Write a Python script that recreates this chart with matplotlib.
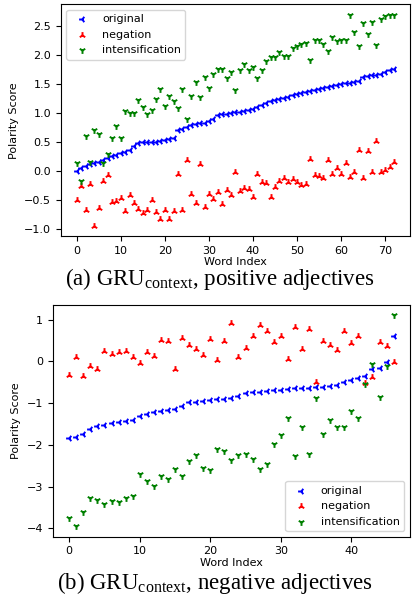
import numpy as np
import matplotlib
matplotlib.use("Agg")
import matplotlib.pyplot as plt

plt.rcParams['font.family'] = ['DejaVu Sans']
plt.rcParams['mathtext.fontset'] = 'custom'
plt.rcParams['mathtext.rm'] = 'Liberation Serif'

# --- (a) positive adjectives ---
pos_original = [0.00, 0.05, 0.09, 0.12, 0.14, 0.16, 0.19, 0.22, 0.25, 0.28,
                0.30, 0.33, 0.36, 0.43, 0.48, 0.49, 0.49, 0.50, 0.50, 0.52,
                0.54, 0.55, 0.57, 0.70, 0.73, 0.75, 0.80, 0.81, 0.82, 0.83,
                0.86, 0.90, 0.97, 0.98, 0.99, 1.00, 1.01, 1.02, 1.03, 1.05,
                1.07, 1.10, 1.14, 1.17, 1.20, 1.22, 1.24, 1.26, 1.28, 1.31,
                1.33, 1.35, 1.37, 1.38, 1.40, 1.42, 1.43, 1.45, 1.46, 1.48,
                1.50, 1.51, 1.52, 1.54, 1.56, 1.62, 1.64, 1.65, 1.66, 1.68,
                1.71, 1.75, 1.76]
pos_negation = [-0.50, -0.27, -0.68, -0.23, -0.95, -0.64, -0.18, -0.08, -0.54, -0.52,
                -0.47, -0.69, -0.42, -0.56, -0.66, -0.73, -0.68, -0.50, -0.72, -0.84,
                -0.68, -0.84, -0.69, -0.06, -0.68, 0.19, -0.40, -0.56, 0.11, -0.63,
                -0.40, -0.48, -0.37, -0.57, -0.34, -0.42, -0.02, -0.35, -0.30, -0.32,
                -0.46, -0.05, -0.20, -0.22, -0.45, -0.28, -0.18, -0.13, -0.19, -0.15,
                -0.20, -0.24, -0.23, 0.20, -0.07, -0.09, -0.12, 0.19, -0.05, 0.05,
                -0.05, 0.13, -0.11, -0.02, 0.36, -0.13, 0.35, -0.02, 0.52, -0.02,
                0.01, 0.06, 0.16]
pos_intens = [0.13, -0.18, 0.61, 0.15, 0.71, 0.63, 0.14, 0.29, 0.57, 0.78,
              0.56, 1.03, 1.00, 1.00, 1.22, 1.11, 0.98, 1.05, 1.25, 1.42,
              1.12, 1.30, 1.20, 1.09, 1.42, 0.89, 1.29, 1.54, 1.27, 1.63,
              1.43, 1.67, 1.76, 1.76, 1.60, 1.71, 1.40, 1.74, 1.84, 1.74,
              1.79, 1.60, 1.74, 1.90, 1.97, 1.97, 2.05, 1.98, 1.98, 2.12,
              2.16, 2.20, 2.21, 1.92, 2.27, 2.27, 2.20, 2.07, 2.32, 2.24,
              2.27, 2.27, 2.69, 2.40, 2.16, 2.56, 2.36, 2.58, 2.17, 2.62,
              2.68, 2.70, 2.70]

# --- (b) negative adjectives ---
neg_original = [-1.84, -1.81, -1.74, -1.63, -1.54, -1.52, -1.48, -1.45, -1.42, -1.40,
                -1.30, -1.25, -1.21, -1.20, -1.17, -1.13, -1.06, -0.98, -0.97, -0.96,
                -0.92, -0.91, -0.89, -0.87, -0.83, -0.75, -0.74, -0.73, -0.70, -0.69,
                -0.69, -0.67, -0.64, -0.63, -0.63, -0.62, -0.61, -0.59, -0.57, -0.49,
                -0.45, -0.40, -0.36, -0.19, -0.15, -0.02, 0.60]
neg_negation = [-0.33, 0.11, -0.36, -0.11, -0.17, 0.26, 0.18, 0.22, 0.24, 0.10,
                -0.03, 0.22, 0.12, 0.52, 0.48, -0.19, 0.57, 0.40, 0.30, 0.16,
                0.54, 0.04, 0.49, 0.93, 0.10, 0.32, 0.62, 0.88, 0.72, 0.46,
                0.62, 0.06, 0.82, 0.30, 0.77, -0.49, 0.48, 0.40, 0.28, 0.73,
                0.44, 0.62, -0.51, -0.37, 0.46, 0.38, -0.02]
neg_intens = [-3.76, -3.95, -3.60, -3.28, -3.33, -3.41, -3.34, -3.36, -3.28, -3.23,
              -2.71, -2.86, -2.98, -2.74, -2.83, -2.57, -2.74, -2.39, -2.25, -2.55,
              -2.60, -2.09, -2.14, -2.37, -2.25, -2.21, -2.35, -2.57, -2.45, -1.98,
              -1.76, -1.36, -2.27, -1.58, -2.21, -0.87, -1.75, -1.40, -1.56, -1.56,
              -1.18, -1.36, -0.55, -0.05, -0.86, -0.11, 1.11]

fig = plt.figure(figsize=(4.14, 5.95), dpi=100)
ax1 = fig.add_axes([0.147, 0.603, 0.843, 0.390])
ax2 = fig.add_axes([0.128, 0.098, 0.862, 0.390])


def draw(ax, orig, neg, inten, loc):
    x = np.arange(len(orig))
    ax.scatter(x, orig, marker='3', color='blue', s=24, linewidths=1.4, label='original')
    ax.scatter(x, neg, marker='2', color='red', s=24, linewidths=1.4, label='negation')
    ax.scatter(x, inten, marker='1', color='green', s=24, linewidths=1.4, label='intensification')
    ax.set_xlabel('Word Index', fontsize=8, labelpad=1)
    ax.set_ylabel('Polarity Score', fontsize=8)
    ax.tick_params(labelsize=8)
    ax.legend(loc=loc, fontsize=8, scatterpoints=1)


draw(ax1, pos_original, pos_negation, pos_intens, 'upper left')
ax1.set_yticks([-1.0, -0.5, 0.0, 0.5, 1.0, 1.5, 2.0, 2.5])
draw(ax2, neg_original, neg_negation, neg_intens, 'lower right')

fig.text(0.531, 0.531, r'(a) GRU$_{\mathrm{context}}$, positive adjectives',
         ha='center', va='center', fontsize=16.5, family='Liberation Serif')
fig.text(0.52, 0.020, r'(b) GRU$_{\mathrm{context}}$, negative adjectives',
         ha='center', va='center', fontsize=16.5, family='Liberation Serif')

fig.savefig('out.png', dpi=100)
